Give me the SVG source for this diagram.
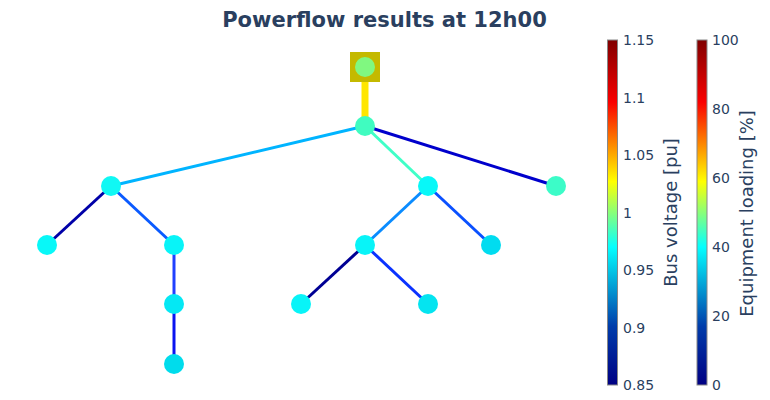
<svg xmlns="http://www.w3.org/2000/svg" width="770" height="400" viewBox="0 0 770 400">
<defs>
<linearGradient id="jet" x1="0" y1="1" x2="0" y2="0">
<stop offset="0" stop-color="rgb(0,0,131)"/>
<stop offset="0.17" stop-color="rgb(0,60,170)"/>
<stop offset="0.40" stop-color="rgb(5,255,255)"/>
<stop offset="0.59" stop-color="rgb(255,255,0)"/>
<stop offset="0.82" stop-color="rgb(250,0,0)"/>
<stop offset="1" stop-color="rgb(128,0,0)"/>
</linearGradient>
<style>
.edge{stroke-width:3;fill:none}
.bus{stroke:none}
.tick{font-family:"DejaVu Sans",Verdana,sans-serif;font-size:14px;fill:#2a3f5f}
.cbt{font-family:"DejaVu Sans",Verdana,sans-serif;font-size:18px;fill:#2a3f5f;text-anchor:middle}
.cbar{fill:url(#jet);stroke:#888;stroke-width:1}
</style>
</defs>
<rect width="770" height="400" fill="#fff"/>
<text x="384.5" y="26.5" text-anchor="middle" font-family="'DejaVu Sans',Verdana,sans-serif" font-weight="bold" font-size="21" fill="#2a3f5f">Powerflow results at 12h00</text>
<g id="connectors">
<line x1="365" y1="82" x2="365" y2="126" stroke="#ffe600" stroke-width="7"/>
<line class="edge" x1="365" y1="126" x2="111" y2="186" stroke="#00b4ff"/>
<line class="edge" x1="365" y1="126" x2="428" y2="186" stroke="#40ffc8"/>
<line class="edge" x1="365" y1="126" x2="556" y2="186" stroke="#0000cc"/>
<line class="edge" x1="111" y1="186" x2="47" y2="245" stroke="#0000a8"/>
<line class="edge" x1="111" y1="186" x2="174" y2="245" stroke="#0a5aff"/>
<line class="edge" x1="174" y1="245" x2="174" y2="304" stroke="#2040ff"/>
<line class="edge" x1="174" y1="304" x2="174" y2="364" stroke="#0a14f0"/>
<line class="edge" x1="428" y1="186" x2="365" y2="245" stroke="#0a8cff"/>
<line class="edge" x1="428" y1="186" x2="491" y2="245" stroke="#0a50ff"/>
<line class="edge" x1="365" y1="245" x2="301" y2="304" stroke="#000094"/>
<line class="edge" x1="365" y1="245" x2="428" y2="304" stroke="#0a32ff"/>
</g>
<g id="ext_grid"><rect x="350" y="52" width="30" height="30" fill="#c4b900"/><circle cx="365" cy="67" r="10" fill="#80f880"/></g>
<g id="bus1"><circle class="bus" cx="365" cy="126" r="10" fill="#40fcc0"/></g>
<g id="bus2"><circle class="bus" cx="111" cy="186" r="10" fill="#10f8f4"/></g>
<g id="bus3"><circle class="bus" cx="428" cy="186" r="10" fill="#08f8f8"/></g>
<g id="bus4"><circle class="bus" cx="556" cy="186" r="10" fill="#3cfcc8"/></g>
<g id="bus5"><circle class="bus" cx="47" cy="245" r="10" fill="#08f8f8"/></g>
<g id="bus6"><circle class="bus" cx="174" cy="245" r="10" fill="#08f4f8"/></g>
<g id="bus7"><circle class="bus" cx="365" cy="245" r="10" fill="#08f4f8"/></g>
<g id="bus8"><circle class="bus" cx="491" cy="245" r="10" fill="#00dcf0"/></g>
<g id="bus9"><circle class="bus" cx="174" cy="304" r="10" fill="#04e8f4"/></g>
<g id="bus10"><circle class="bus" cx="301" cy="304" r="10" fill="#08f4f8"/></g>
<g id="bus11"><circle class="bus" cx="428" cy="304" r="10" fill="#04e4f0"/></g>
<g id="bus12"><circle class="bus" cx="174" cy="364" r="10" fill="#00dcec"/></g>
<g id="colorbar_voltage">
<rect class="cbar" x="607.5" y="40" width="10" height="345"/>
<text class="tick" x="623" y="40" dy="0.36em">1.15</text>
<text class="tick" x="623" y="97.5" dy="0.36em">1.1</text>
<text class="tick" x="623" y="155" dy="0.36em">1.05</text>
<text class="tick" x="623" y="212.5" dy="0.36em">1</text>
<text class="tick" x="623" y="270" dy="0.36em">0.95</text>
<text class="tick" x="623" y="327.5" dy="0.36em">0.9</text>
<text class="tick" x="623" y="385" dy="0.36em">0.85</text>
<text class="cbt" transform="translate(677,212.5) rotate(-90)">Bus voltage [pu]</text>
</g>
<g id="colorbar_loading">
<rect class="cbar" x="697" y="40" width="10" height="345"/>
<text class="tick" x="712" y="40" dy="0.36em">100</text>
<text class="tick" x="712" y="109" dy="0.36em">80</text>
<text class="tick" x="712" y="178" dy="0.36em">60</text>
<text class="tick" x="712" y="247" dy="0.36em">40</text>
<text class="tick" x="712" y="316" dy="0.36em">20</text>
<text class="tick" x="712" y="385" dy="0.36em">0</text>
<text class="cbt" transform="translate(753,213.5) rotate(-90)">Equipment loading [%]</text>
</g>
</svg>
